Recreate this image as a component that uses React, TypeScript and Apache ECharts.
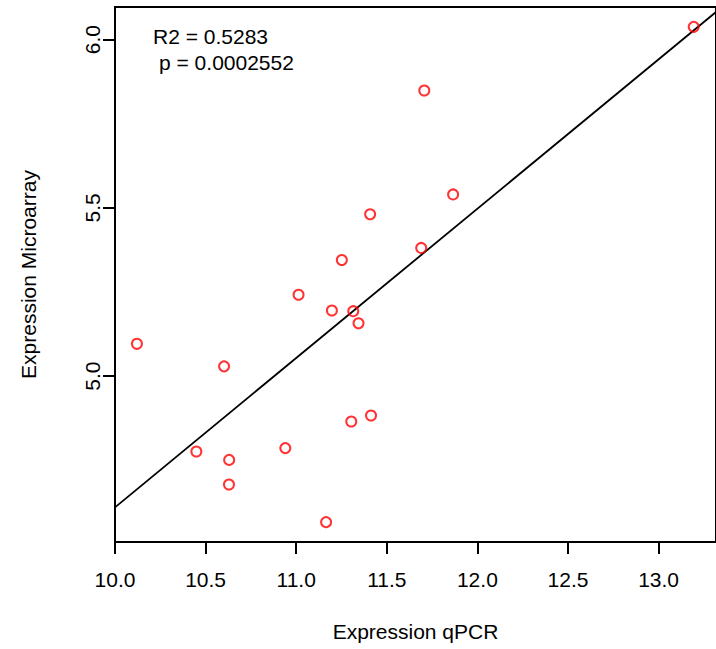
import React, { useEffect, useRef } from "react";
import * as echarts from "echarts";

const qpcr = [13.194, 11.707, 11.866, 11.408, 11.69, 11.252, 11.013, 11.197, 11.315, 11.344, 10.121, 10.602, 11.413, 11.304, 10.449, 10.94, 10.63, 10.629, 11.165];
const microarray = [6.038, 5.849, 5.54, 5.481, 5.381, 5.345, 5.242, 5.195, 5.193, 5.157, 5.096, 5.029, 4.883, 4.865, 4.776, 4.786, 4.751, 4.678, 4.566];
const fitX = [10.0, 13.317];
const fitY = [4.61, 6.082];
const xTicks = [10.0, 10.5, 11.0, 11.5, 12.0, 12.5, 13.0];
const yTicks = [5.0, 5.5, 6.0];
const statLines = ["R2 = 0.5283", "p = 0.0002552"];

const FONT = "'Liberation Sans', Arial, Helvetica, sans-serif";

export default function App() {
  const ref = useRef<HTMLDivElement>(null);
  useEffect(() => {
    if (!ref.current) return;
    const chart = echarts.init(ref.current, null, { renderer: "svg" });
    const points = qpcr.map((x, i) => [x, microarray[i]]);
    const fit = fitX.map((x, i) => [x, fitY[i]]);
    chart.setOption({
      animation: false,
      backgroundColor: "#ffffff",
      grid: {
        left: 115,
        top: 7,
        width: 611,
        height: 535,
        show: true,
        borderColor: "#000",
        borderWidth: 2,
        backgroundColor: "transparent",
      },
      xAxis: {
        type: "value",
        min: 10.0,
        max: 13.317,
        name: "Expression qPCR",
        nameLocation: "middle",
        nameGap: 79,
        nameTextStyle: { fontFamily: FONT, fontSize: 21, color: "#000" },
        splitLine: { show: false },
        axisLine: { show: false },
        axisTick: { show: true, length: 12, lineStyle: { color: "#000", width: 2 }, customValues: xTicks },
        axisLabel: {
          fontFamily: FONT,
          fontSize: 21,
          color: "#000",
          margin: 27,
          customValues: xTicks,
          formatter: (v: number) => v.toFixed(1),
        },
      },
      yAxis: {
        type: "value",
        min: 4.507,
        max: 6.097,
        name: "Expression Microarray",
        nameLocation: "middle",
        nameRotate: 90,
        nameGap: 76,
        nameTextStyle: { fontFamily: FONT, fontSize: 21, color: "#000" },
        splitLine: { show: false },
        axisLine: { show: false },
        axisTick: { show: true, length: 12, lineStyle: { color: "#000", width: 2 }, customValues: yTicks },
        axisLabel: {
          fontFamily: FONT,
          fontSize: 21,
          color: "#000",
          rotate: 90,
          margin: 12,
          customValues: yTicks,
          formatter: (v: number) => v.toFixed(1),
        },
      },
      graphic: [
        {
          type: "text",
          left: 153,
          top: 26,
          style: { text: statLines[0], font: `21px ${FONT}`, fill: "#000" },
        },
        {
          type: "text",
          left: 159,
          top: 52,
          style: { text: statLines[1], font: `21px ${FONT}`, fill: "#000" },
        },
      ],
      series: [
        {
          type: "line",
          data: fit,
          showSymbol: false,
          symbol: "none",
          lineStyle: { color: "#000", width: 1.8 },
          clip: true,
          silent: true,
          z: 2,
        },
        {
          type: "scatter",
          data: points,
          symbol: "circle",
          symbolSize: 10,
          itemStyle: { color: "rgba(255,255,255,0)", borderColor: "#ff0000", borderWidth: 2 },
          z: 3,
        },
      ],
    });
    return () => chart.dispose();
  }, []);
  return (
    <div
      ref={ref}
      style={{ position: "absolute", left: 0, top: 0, width: 716, height: 649, overflow: "hidden" }}
    />
  );
}
